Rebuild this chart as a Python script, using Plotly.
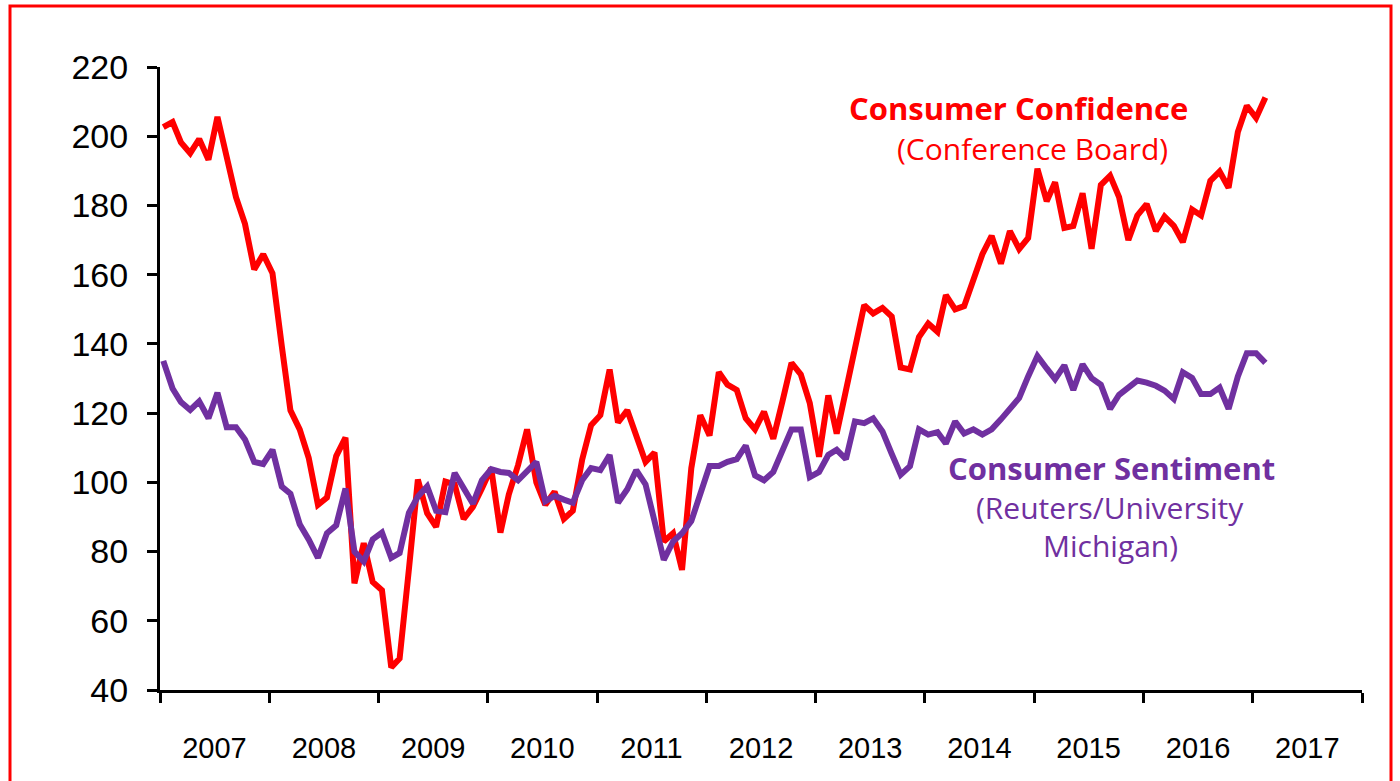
import pandas as pd
import plotly.graph_objects as go

# Monthly values, Jan 2007 - Feb 2017
confidence = [
    202.6, 204.1, 198.2, 195.1, 199.2, 193.2, 205.6, 193.5, 182.4, 174.7, 161.5, 165.9,
    160.4, 139.4, 120.8, 115.3, 107.1, 93.5, 95.6, 107.6, 112.9, 70.8, 82.4, 71.2,
    68.8, 46.5, 49.1, 74.9, 100.8, 91.1, 87.1, 100.2, 99.4, 89.4, 92.9, 98.2,
    104.1, 85.5, 96.5, 105.0, 115.3, 100.0, 93.5, 97.3, 89.4, 91.8, 106.5, 116.5,
    119.4, 132.6, 117.3, 120.8, 112.9, 105.9, 108.6, 82.9, 85.3, 74.7, 104.1, 119.4,
    113.5, 131.8, 128.2, 126.7, 118.5, 115.3, 120.4, 112.6, 123.5, 134.5, 131.2, 122.9,
    107.4, 125.1, 114.1, 126.7, 137.1, 151.2, 148.8, 150.4, 147.9, 133.2, 132.6, 142.0,
    145.9, 143.5, 154.1, 150.0, 150.9, 158.8, 165.9, 171.2, 163.2, 172.6, 167.4, 170.6,
    190.6, 181.2, 186.7, 173.5, 174.1, 183.5, 167.5, 185.9, 188.6, 182.4, 170.0, 177.1,
    180.4, 172.6, 176.8, 174.1, 169.4, 178.8, 177.1, 187.1, 189.8, 185.1, 201.2, 208.8,
    205.3, 211.2,
]
sentiment = [
    135.1, 127.1, 123.2, 120.9, 123.4, 118.5, 125.9, 115.9, 115.9, 112.4, 105.9, 105.3,
    109.4, 98.8, 96.7, 87.9, 83.5, 78.2, 85.3, 87.6, 98.2, 80.0, 77.1, 83.5,
    85.5, 78.2, 79.6, 91.2, 95.9, 98.8, 91.8, 91.4, 102.7, 98.2, 93.8, 100.6,
    103.8, 103.0, 102.7, 100.6, 103.2, 105.9, 94.5, 96.1, 95.0, 94.1, 100.6, 104.1,
    103.5, 107.9, 94.1, 98.0, 103.5, 99.4, 88.8, 77.6, 82.9, 85.3, 88.8, 97.1,
    104.7, 104.7, 105.9, 106.7, 110.6, 102.0, 100.6, 103.0, 108.8, 115.3, 115.3, 101.5,
    103.0, 107.9, 109.4, 106.7, 117.6, 117.1, 118.5, 114.7, 108.2, 102.2, 104.7, 115.3,
    113.8, 114.5, 111.2, 117.6, 114.1, 115.3, 113.8, 115.3, 118.2, 121.5, 124.4, 130.6,
    136.5, 132.9, 129.8, 133.8, 126.7, 134.1, 130.1, 128.2, 121.2, 125.3, 127.6, 129.4,
    128.8, 127.9, 126.5, 124.1, 131.8, 130.2, 125.5, 125.5, 127.4, 121.2, 130.6, 137.3,
    137.3, 134.5,
]
years = list(range(2007, 2018))
y_ticks = list(range(40, 221, 20))

dates = pd.date_range("2007-01-01", periods=len(confidence), freq="MS") + pd.Timedelta(days=11)

RED = "#FF0000"
PURPLE = "#7030A0"

W, H = 1400, 781
L, R, T, B = 160, 38, 67, 91
PW, PH = W - L - R, H - T - B


def px(x):
    return (x - L) / PW


def py(y):
    return (H - B - y) / PH


fig = go.Figure()
fig.add_trace(go.Scatter(x=dates, y=confidence, mode="lines",
                         line=dict(color=RED, width=6), showlegend=False))
fig.add_trace(go.Scatter(x=dates, y=sentiment, mode="lines",
                         line=dict(color=PURPLE, width=6), showlegend=False))

fig.update_layout(
    width=W, height=H,
    margin=dict(l=L, r=R, t=T, b=B, pad=0),
    paper_bgcolor="white", plot_bgcolor="white",
    font=dict(family="Liberation Sans", color="black"),
    xaxis=dict(
        type="date",
        range=["2007-01-01", "2018-01-01"],
        showgrid=False, zeroline=False,
        showline=True, linecolor="black", linewidth=3,
        tickmode="array",
        tickvals=[f"{y}-07-02" for y in years],
        ticktext=[str(y) for y in years],
        ticks="",
        tickfont=dict(family="Liberation Sans", size=29, color="black"),
        ticklabelstandoff=30,
        minor=dict(tickmode="array",
                   tickvals=[f"{y}-01-01" for y in range(2007, 2019)],
                   ticks="outside", ticklen=10, tickwidth=3, tickcolor="black",
                   showgrid=False),
    ),
    yaxis=dict(
        range=[40, 220],
        tickmode="array", tickvals=y_ticks,
        showgrid=False, zeroline=False,
        showline=True, linecolor="black", linewidth=3,
        ticks="outside", ticklen=10, tickwidth=3, tickcolor="black",
        tickfont=dict(family="Liberation Sans", size=34, color="black"),
        ticklabelstandoff=12,
    ),
)

annots = [
    ("<b>Consumer Confidence</b>", 1018, 108, RED, 31),
    ("(Conference Board)", 1032, 148, RED, 30),
    ("<b>Consumer Sentiment</b>", 1111, 468, PURPLE, 31),
    ("(Reuters/University", 1110, 507, PURPLE, 30),
    ("Michigan)", 1110, 545, PURPLE, 30),
]
for text, x, y, c, s in annots:
    fig.add_annotation(text=text, x=px(x), y=py(y), xref="paper", yref="paper",
                       xanchor="center", yanchor="middle", showarrow=False,
                       font=dict(family="Open Sans", size=s, color=c))

fig.add_shape(type="rect", xref="paper", yref="paper",
              x0=px(10), x1=px(1391), y0=py(800), y1=py(6),
              line=dict(color=RED, width=3), fillcolor="rgba(0,0,0,0)", layer="above")

fig.write_html("out.html", config={"displayModeBar": False},
               post_script="document.body.style.margin='0';document.body.style.padding='0';")
